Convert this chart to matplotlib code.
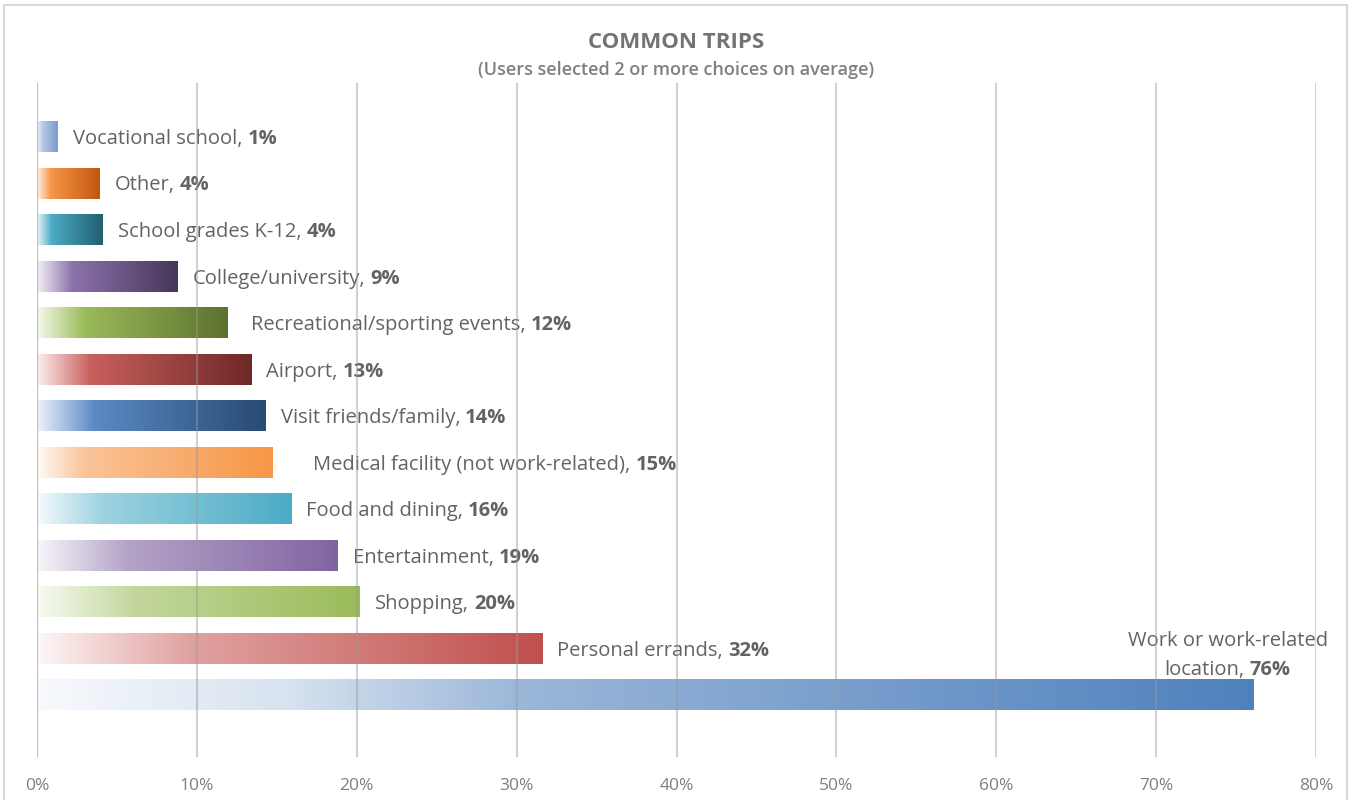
import numpy as np
import matplotlib
matplotlib.use("Agg")
import matplotlib.pyplot as plt
from matplotlib.colors import LinearSegmentedColormap
from matplotlib.patches import Rectangle

plt.rcParams['font.family'] = ['Open Sans', 'DejaVu Sans']

# trip purposes, top to bottom, and share of users (%)
trips = ["Vocational school", "Other", "School grades K-12", "College/university",
         "Recreational/sporting events", "Airport", "Visit friends/family",
         "Medical facility (not work-related)", "Food and dining", "Entertainment",
         "Shopping", "Personal errands", "Work or work-related location"]
shares = [1.3, 3.9, 4.1, 8.8, 11.9, 13.4, 14.3, 14.7, 15.9, 18.8, 20.2, 31.6, 76.1]
ticks = [0, 10, 20, 30, 40, 50, 60, 70, 80]

# gradient stops for each bar: (position along bar, colour)
fills = [
    [(0, "#eef3fa"), (0.3, "#b2c7e5"), (1, "#7b9bcf")],
    [(0, "#fff3e8"), (0.22, "#f79646"), (1, "#c0580f")],
    [(0, "#eaf7fa"), (0.22, "#4bacc6"), (1, "#215f6e")],
    [(0, "#f2eff6"), (0.25, "#8c72ac"), (1, "#463659")],
    [(0, "#f5f9ec"), (0.25, "#9bbb59"), (1, "#5c712f")],
    [(0, "#fbeeee"), (0.25, "#c8605c"), (1, "#6e2827")],
    [(0, "#edf2f9"), (0.25, "#5b8ac4"), (1, "#284a73")],
    [(0, "#fffaf5"), (0.2, "#fac49a"), (1, "#f79646")],
    [(0, "#f5fbfd"), (0.25, "#9ed3e1"), (1, "#4bacc6")],
    [(0, "#f8f6fa"), (0.3, "#b4a3c8"), (1, "#8064a2")],
    [(0, "#f8fbf2"), (0.3, "#c3d79d"), (1, "#9bbb59")],
    [(0, "#fdf7f7"), (0.3, "#e0a2a0"), (1, "#c0504d")],
    [(0, "#f7f9fc"), (0.2, "#d8e3f0"), (0.4, "#9ab6d9"), (1, "#4f81bd")],
]
label_pad = [15, 15, 15, 15, 24, 15, 15, 41, 15, 15, 15, 15, 15]

TEXT = "#636363"
n = len(trips)
bar_h = 0.65
fs = 14.5
gap = 5

fig = plt.figure(figsize=(13.52, 8.0), dpi=100)
ax = fig.add_axes([37 / 1352, 43 / 800, (1316 - 37) / 1352, (757 - 83) / 800])
renderer = fig.canvas.get_renderer()


def text_width(s, **kw):
    t = fig.text(0, 0, s, fontsize=fs, **kw)
    w = t.get_window_extent(renderer).width
    t.remove()
    return w


def value_label(x, y, name, value, dx, dy):
    # regular name followed by the bold value, on one baseline
    ax.annotate(name, xy=(x, y), xytext=(dx, dy), textcoords="offset pixels",
                va="baseline", ha="left", fontsize=fs, color=TEXT, zorder=3)
    ax.annotate(value, xy=(x, y), xytext=(dx + text_width(name) + gap, dy),
                textcoords="offset pixels", va="baseline", ha="left",
                fontsize=fs, color=TEXT, weight="bold", zorder=3)


grad = np.linspace(0, 1, 256).reshape(1, -1)
for i, (v, stops) in enumerate(zip(shares, fills)):
    cmap = LinearSegmentedColormap.from_list(f"bar{i}", stops)
    ax.imshow(grad, extent=(0, v, i + bar_h / 2, i - bar_h / 2), aspect="auto",
              cmap=cmap, interpolation="bilinear", zorder=2)

ax.set_xlim(0, 80)
ax.set_ylim(n - 1 + 1.33, -1.16)

# vertical gridlines sit on top of the bars
for t in ticks[1:]:
    ax.axvline(t, color="#9a9a9a", alpha=0.45, lw=1.5, zorder=4)
ax.axvline(0, color="#bfbfbf", lw=1.6, zorder=4)

for s in ax.spines.values():
    s.set_visible(False)
ax.set_yticks([])
ax.set_xticks(ticks)
ax.set_xticklabels([f"{t}%" for t in ticks], fontsize=12.5, color="#7f7f7f")
ax.tick_params(axis="x", length=0, pad=15)

# data labels beside the bars
for i, (name, v) in enumerate(zip(trips[:-1], shares[:-1])):
    value_label(v, i, name + ",", f"{v:.0f}%", label_pad[i], -7)

# the long bar gets a two-line label above its end
v = shares[-1]
i = n - 1
ax.annotate("Work or work-related", xy=(v, i), xytext=(-26, 49),
            textcoords="offset pixels", va="baseline", ha="center",
            fontsize=fs, color=TEXT, zorder=3)
total = text_width("location,") + gap + text_width(f"{v:.0f}%", weight="bold")
value_label(v, i, "location,", f"{v:.0f}%", -26 - total / 2, 20)

fig.text(0.5, 1 - 43 / 800, "COMMON TRIPS", ha="center", va="center",
         fontsize=16, weight="bold", color="#737373")
fig.text(0.5, 1 - 70 / 800, "(Users selected 2 or more choices on average)",
         ha="center", va="center", fontsize=13, weight="semibold",
         color="#7f7f7f")

fig.patches.append(Rectangle((4 / 1352, -0.02), (1347 - 4) / 1352, 0.02 + 795 / 800,
                             transform=fig.transFigure, fill=False,
                             edgecolor="#d9d9d9", lw=1.5))

fig.savefig("out.png", dpi=100, facecolor="white")
